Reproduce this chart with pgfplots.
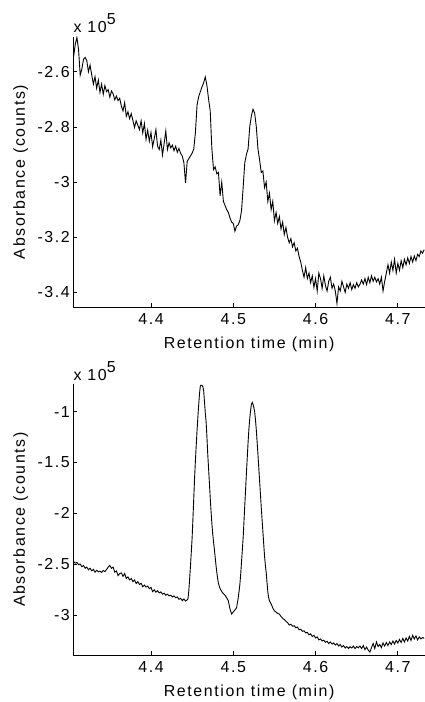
\documentclass[border=0pt]{standalone}
\usepackage{fontspec}
\setmainfont{Liberation Sans}[LetterSpace=10]
\usepackage{pgfplots}
\pgfplotsset{compat=1.18}
\begin{document}
\begin{tikzpicture}[font=\fontsize{16}{19}\selectfont]
\useasboundingbox (0,0) rectangle (425bp,702bp);
\pgfplotsset{chrom/.style={
  scale only axis, width=351.7bp, anchor=south west,
  xmin=4.3056, xmax=4.733,
  axis x line*=bottom, axis y line*=left,
  tick align=inside, major tick length=4bp,
  xtick={4.4,4.5,4.6,4.7}, xticklabels={4.4,4.5,4.6,4.7},
  font=\fontsize{16}{19}\selectfont,
  xlabel={Retention time (min)}, ylabel={Absorbance (counts)},
  axis line style={line width=0.8bp, -},
  every tick/.style={black, line width=0.8bp},
  scaled ticks=false,
  xticklabel style={yshift=-3bp},
  xlabel style={yshift=-5bp},
  ylabel style={yshift=2.5bp},
}}
% ---------------- top panel ----------------
\begin{axis}[chrom, name=top, at={(73.3bp,395bp)}, height=270bp,
  ymin=-3.453, ymax=-2.474,
  ytick={-3.4,-3.2,-3,-2.8,-2.6}, yticklabels={{-3.4},{-3.2},{-3},{-2.8},{-2.6}}]
\addplot[black, line width=0.9bp] table {
x y
4.306 -2.545
4.308 -2.500
4.310 -2.476
4.312 -2.520
4.314 -2.612
4.316 -2.590
4.318 -2.555
4.320 -2.548
4.322 -2.560
4.324 -2.600
4.326 -2.576
4.328 -2.612
4.330 -2.645
4.332 -2.618
4.334 -2.660
4.336 -2.630
4.338 -2.675
4.340 -2.645
4.342 -2.682
4.344 -2.650
4.346 -2.672
4.348 -2.665
4.350 -2.692
4.352 -2.670
4.354 -2.680
4.356 -2.702
4.358 -2.688
4.360 -2.705
4.362 -2.696
4.364 -2.725
4.366 -2.742
4.368 -2.712
4.370 -2.762
4.372 -2.745
4.374 -2.770
4.376 -2.752
4.378 -2.776
4.380 -2.802
4.382 -2.778
4.384 -2.794
4.386 -2.810
4.388 -2.778
4.390 -2.822
4.392 -2.788
4.394 -2.845
4.396 -2.812
4.398 -2.852
4.400 -2.820
4.402 -2.872
4.404 -2.842
4.406 -2.810
4.408 -2.870
4.410 -2.882
4.412 -2.848
4.414 -2.902
4.416 -2.860
4.418 -2.815
4.420 -2.882
4.422 -2.858
4.424 -2.876
4.426 -2.866
4.428 -2.886
4.430 -2.870
4.432 -2.892
4.434 -2.878
4.436 -2.896
4.438 -2.905
4.440 -2.930
4.442 -3.004
4.444 -2.925
4.446 -2.915
4.448 -2.905
4.450 -2.895
4.452 -2.880
4.454 -2.820
4.456 -2.720
4.458 -2.690
4.460 -2.672
4.462 -2.655
4.464 -2.640
4.466 -2.619
4.468 -2.650
4.470 -2.700
4.472 -2.742
4.474 -2.880
4.476 -2.955
4.478 -2.945
4.480 -2.970
4.482 -2.965
4.484 -3.050
4.486 -3.000
4.488 -3.070
4.490 -3.085
4.492 -3.100
4.494 -3.110
4.496 -3.130
4.498 -3.145
4.500 -3.150
4.502 -3.178
4.504 -3.160
4.506 -3.155
4.508 -3.140
4.510 -3.105
4.512 -3.020
4.514 -2.930
4.516 -2.900
4.518 -2.880
4.520 -2.800
4.522 -2.760
4.524 -2.736
4.526 -2.750
4.528 -2.800
4.530 -2.880
4.532 -2.920
4.534 -2.965
4.536 -2.960
4.538 -3.020
4.540 -3.000
4.542 -3.070
4.544 -3.040
4.546 -3.100
4.548 -3.070
4.550 -3.140
4.552 -3.110
4.554 -3.150
4.556 -3.125
4.558 -3.170
4.560 -3.145
4.562 -3.190
4.564 -3.165
4.566 -3.200
4.568 -3.220
4.570 -3.205
4.572 -3.235
4.574 -3.220
4.576 -3.250
4.578 -3.240
4.580 -3.270
4.582 -3.290
4.584 -3.320
4.586 -3.345
4.588 -3.310
4.590 -3.350
4.592 -3.330
4.594 -3.365
4.596 -3.340
4.598 -3.382
4.600 -3.350
4.602 -3.395
4.604 -3.330
4.606 -3.350
4.608 -3.385
4.610 -3.340
4.612 -3.375
4.614 -3.395
4.616 -3.360
4.618 -3.345
4.620 -3.385
4.622 -3.370
4.624 -3.395
4.626 -3.440
4.628 -3.380
4.630 -3.395
4.632 -3.360
4.634 -3.380
4.636 -3.400
4.638 -3.370
4.640 -3.385
4.642 -3.365
4.644 -3.390
4.646 -3.372
4.648 -3.385
4.650 -3.365
4.652 -3.380
4.654 -3.370
4.656 -3.355
4.658 -3.370
4.660 -3.350
4.662 -3.372
4.664 -3.345
4.666 -3.365
4.668 -3.340
4.670 -3.360
4.672 -3.345
4.674 -3.362
4.676 -3.350
4.678 -3.370
4.680 -3.345
4.682 -3.395
4.684 -3.360
4.686 -3.330
4.688 -3.300
4.690 -3.330
4.692 -3.290
4.694 -3.320
4.696 -3.280
4.698 -3.330
4.700 -3.295
4.702 -3.320
4.704 -3.285
4.706 -3.310
4.708 -3.280
4.710 -3.300
4.712 -3.275
4.714 -3.295
4.716 -3.270
4.718 -3.290
4.720 -3.268
4.722 -3.285
4.724 -3.262
4.726 -3.270
4.728 -3.250
4.730 -3.258
4.732 -3.245
};
\end{axis}
\node[anchor=base west, inner sep=0pt, font=\fontsize{16}{19}\selectfont] at ([yshift=4bp]top.north west) {x 10\raisebox{8bp}{5}};
% ---------------- bottom panel ----------------
\begin{axis}[chrom, name=bot, at={(73.3bp,47bp)}, height=270.7bp,
  ymin=-3.393, ymax=-0.73,
  ytick={-3,-2.5,-2,-1.5,-1}, yticklabels={{-3},{-2.5},{-2},{-1.5},{-1}}]
\addplot[black, line width=0.9bp] table {
x y
4.306 -2.475
4.308 -2.490
4.310 -2.482
4.312 -2.505
4.314 -2.498
4.316 -2.525
4.318 -2.512
4.320 -2.540
4.322 -2.528
4.324 -2.555
4.326 -2.540
4.328 -2.565
4.330 -2.550
4.332 -2.578
4.334 -2.560
4.336 -2.575
4.338 -2.568
4.340 -2.580
4.342 -2.562
4.344 -2.572
4.346 -2.552
4.348 -2.528
4.350 -2.512
4.352 -2.540
4.354 -2.528
4.356 -2.578
4.358 -2.566
4.360 -2.612
4.362 -2.592
4.364 -2.585
4.366 -2.620
4.368 -2.592
4.370 -2.640
4.372 -2.625
4.374 -2.655
4.376 -2.640
4.378 -2.672
4.380 -2.655
4.382 -2.690
4.384 -2.672
4.386 -2.700
4.388 -2.688
4.390 -2.722
4.392 -2.705
4.394 -2.725
4.396 -2.715
4.398 -2.740
4.400 -2.728
4.402 -2.770
4.404 -2.752
4.406 -2.775
4.408 -2.760
4.410 -2.782
4.412 -2.772
4.414 -2.795
4.416 -2.785
4.418 -2.805
4.420 -2.795
4.422 -2.812
4.424 -2.805
4.426 -2.822
4.428 -2.812
4.430 -2.830
4.432 -2.822
4.434 -2.845
4.436 -2.835
4.438 -2.858
4.440 -2.842
4.442 -2.862
4.444 -2.850
4.445 -2.840
4.446 -2.760
4.447 -2.640
4.448 -2.520
4.449 -2.380
4.450 -2.240
4.451 -2.050
4.452 -1.850
4.453 -1.650
4.454 -1.480
4.455 -1.330
4.456 -1.180
4.457 -1.050
4.458 -0.930
4.459 -0.820
4.460 -0.745
4.461 -0.738
4.462 -0.742
4.463 -0.752
4.464 -0.790
4.465 -0.900
4.466 -1.010
4.467 -1.100
4.468 -1.250
4.469 -1.420
4.470 -1.560
4.471 -1.700
4.472 -1.850
4.473 -1.980
4.474 -2.100
4.475 -2.200
4.476 -2.280
4.477 -2.350
4.478 -2.430
4.479 -2.510
4.480 -2.580
4.481 -2.640
4.482 -2.690
4.484 -2.740
4.486 -2.770
4.488 -2.790
4.490 -2.805
4.492 -2.830
4.494 -2.860
4.496 -2.940
4.498 -2.990
4.500 -2.970
4.502 -2.950
4.504 -2.930
4.505 -2.880
4.506 -2.830
4.507 -2.770
4.508 -2.700
4.509 -2.600
4.510 -2.480
4.511 -2.360
4.512 -2.240
4.513 -2.080
4.514 -1.920
4.515 -1.760
4.516 -1.600
4.517 -1.450
4.518 -1.300
4.519 -1.170
4.520 -1.070
4.521 -0.990
4.522 -0.930
4.523 -0.908
4.524 -0.925
4.525 -0.960
4.526 -1.000
4.527 -1.080
4.528 -1.180
4.529 -1.300
4.530 -1.420
4.531 -1.550
4.532 -1.680
4.533 -1.810
4.534 -1.940
4.535 -2.060
4.536 -2.180
4.537 -2.300
4.538 -2.420
4.539 -2.510
4.540 -2.580
4.541 -2.680
4.542 -2.770
4.543 -2.830
4.544 -2.860
4.546 -2.890
4.548 -2.930
4.550 -2.960
4.552 -2.970
4.554 -2.985
4.556 -2.990
4.558 -3.015
4.560 -3.030
4.562 -3.045
4.564 -3.060
4.566 -3.075
4.568 -3.098
4.570 -3.090
4.572 -3.110
4.574 -3.105
4.576 -3.125
4.578 -3.118
4.580 -3.145
4.582 -3.140
4.584 -3.160
4.586 -3.155
4.588 -3.175
4.590 -3.170
4.592 -3.195
4.594 -3.185
4.596 -3.210
4.598 -3.200
4.600 -3.225
4.602 -3.215
4.604 -3.245
4.606 -3.235
4.608 -3.255
4.610 -3.248
4.612 -3.268
4.614 -3.258
4.616 -3.280
4.618 -3.265
4.620 -3.285
4.622 -3.275
4.624 -3.295
4.626 -3.280
4.628 -3.305
4.630 -3.290
4.632 -3.315
4.634 -3.300
4.636 -3.325
4.638 -3.310
4.640 -3.328
4.642 -3.312
4.644 -3.325
4.646 -3.305
4.648 -3.330
4.650 -3.310
4.652 -3.322
4.654 -3.305
4.656 -3.330
4.658 -3.300
4.660 -3.340
4.662 -3.315
4.664 -3.345
4.666 -3.365
4.668 -3.320
4.670 -3.280
4.672 -3.330
4.674 -3.265
4.676 -3.310
4.678 -3.290
4.680 -3.320
4.682 -3.275
4.684 -3.305
4.686 -3.270
4.688 -3.300
4.690 -3.265
4.692 -3.290
4.694 -3.255
4.696 -3.285
4.698 -3.250
4.700 -3.275
4.702 -3.240
4.704 -3.270
4.706 -3.230
4.708 -3.265
4.710 -3.225
4.712 -3.255
4.714 -3.210
4.716 -3.250
4.718 -3.200
4.720 -3.235
4.722 -3.205
4.724 -3.245
4.726 -3.215
4.728 -3.235
4.730 -3.220
4.732 -3.230
};
\end{axis}
\node[anchor=base west, inner sep=0pt, font=\fontsize{16}{19}\selectfont] at ([yshift=4bp]bot.north west) {x 10\raisebox{8bp}{5}};
\end{tikzpicture}
\end{document}
